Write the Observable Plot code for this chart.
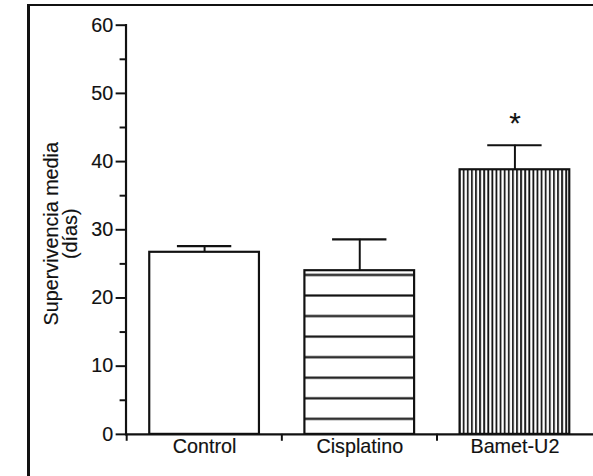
<!DOCTYPE html>
<html><head><meta charset="utf-8">
<script src="https://cdn.jsdelivr.net/npm/d3@7"></script>
<script src="https://cdn.jsdelivr.net/npm/@observablehq/plot@0.6"></script>
<style>
html,body{margin:0;padding:0;background:#fff;overflow:hidden;width:593px;height:476px;}
#wrap{position:relative;width:593px;height:476px;overflow:hidden;background:#fff;}
#chart{position:absolute;left:0;top:0;}
#chart svg text{stroke:#111;stroke-width:0.15px;}
#frame{position:absolute;left:27px;top:4px;width:800px;height:700px;border-left:3px solid #111;border-top:2.5px solid #111;box-sizing:border-box;pointer-events:none;}
</style></head><body>
<div id="wrap"><div id="chart"></div><div id="frame"></div></div>
<script>
// ---- data ----
const categories = ["Control", "Cisplatino", "Bamet-U2"];
const means = [26.7, 24.0, 38.8];
const errors = [0.9, 4.6, 3.6];
const significance = ["", "", "*"];
const yTicks = [0, 10, 20, 30, 40, 50, 60];
const yMinorTicks = [5, 15, 25, 35, 45, 55];
const yLabelLines = ["Supervivencia media", "(días)"];

// ---- style ----
const barFills = ["#ffffff", "url(#hatchH)", "url(#hatchV)"];
const ink = "#111";
const W = 600, H = 476, ML = 127, MR = 0, MT = 25, MB = 37;
const step = (W - ML - MR) / categories.length;

const data = categories.map((c, i) => ({
  category: c, mean: means[i], err: errors[i], top: means[i] + errors[i],
  sig: significance[i], fill: barFills[i]
}));

const plot = Plot.plot({
  width: W, height: H,
  marginLeft: ML, marginRight: MR, marginTop: MT, marginBottom: MB,
  style: {fontFamily: "'Liberation Sans', Arial, Helvetica, sans-serif", fontSize: "20px", color: ink, background: "#fff", overflow: "visible"},
  x: {domain: categories, paddingInner: 0.29, paddingOuter: 0.145, axis: null},
  y: {domain: [0, 60], axis: null},
  color: {type: "identity"},
  marks: [
    Plot.barY(data, {x: "category", y: "mean", fill: "fill", stroke: ink, strokeWidth: 2.2}),
    Plot.ruleX(data, {x: "category", y1: "mean", y2: "top", stroke: ink, strokeWidth: 2}),
    Plot.tickY(data, {x: "category", y: "top", stroke: ink, strokeWidth: 2.2, insetLeft: 28, insetRight: 28}),
    Plot.text(data.filter(d => d.sig), {x: "category", y: "top", text: "sig", dy: -22, fontSize: 30, fill: ink}),
    Plot.ruleY([0], {stroke: ink, strokeWidth: 2.2}),
    Plot.frame({anchor: "left", stroke: ink, strokeWidth: 2.2}),
    Plot.axisY(yTicks, {tickSize: 10, tickPadding: 3, fontSize: 20, strokeWidth: 2, label: null}),
    Plot.axisY(yMinorTicks, {tickSize: 6, tickFormat: () => "", strokeWidth: 2, label: null}),
    Plot.axisX({tickSize: 7, tickFormat: () => "", dx: -step / 2, strokeWidth: 2, label: null}),
    Plot.axisX({tickSize: 0, tickPadding: 5, fontSize: 20, label: null}),
    Plot.text([yLabelLines.join("\n")], {frameAnchor: "left", rotate: -90, textAnchor: "middle", lineAnchor: "middle", lineHeight: 0.95, dx: -65, dy: 4, fontSize: 20, fill: ink})
  ]
});

d3.select(plot).insert("defs", ":first-child").html(`
  <pattern id="hatchH" patternUnits="userSpaceOnUse" x="0" y="413.4" width="10" height="20.8">
    <rect width="10" height="20.8" fill="#fff"/>
    <line x1="0" x2="10" y1="10.4" y2="10.4" stroke="${ink}" stroke-width="2.2"/>
  </pattern>
  <pattern id="hatchV" patternUnits="userSpaceOnUse" x="464" y="0" width="4.15" height="10">
    <rect width="4.15" height="10" fill="#fff"/>
    <line x1="1" x2="1" y1="0" y2="10" stroke="${ink}" stroke-width="1.8"/>
  </pattern>`);

document.getElementById("chart").appendChild(plot);
</script>
</body></html>
